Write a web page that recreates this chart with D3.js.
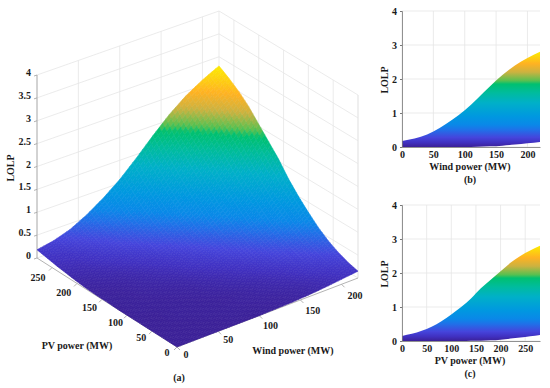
<!DOCTYPE html>
<html>
  <head>
    <title>LOLP surface</title>
    <script src="https://d3js.org/d3.v7.min.js"></script>
    <style>
      html, body { margin: 0; padding: 0; background: #fff; }
      text { font-family: "Liberation Serif", serif; font-weight: bold; fill: #1a1a1a; }
    </style>
  </head>
  <body>
    <div id="chart"></div>
    <script>
      // values
      var windPower = [0, 20, 40, 60, 80, 100, 120, 140, 160, 180, 200, 220];
      var pvPower = [0, 20, 40, 60, 80, 100, 120, 140, 160, 180, 200, 220, 240, 260, 280];
      // one row per pvPower value, one column per windPower value
      var lolp = [
        [0, 0, 0, 0, 0, 0, .01, .02, .04, .07, .11, .15],
        [0, 0, 0, 0, .01, .01, .02, .03, .05, .09, .15, .21],
        [0, 0, 0, .01, .01, .02, .03, .05, .08, .14, .21, .30],
        [0, 0, .01, .01, .01, .02, .04, .07, .12, .19, .29, .42],
        [0, 0, .01, .01, .02, .04, .07, .11, .18, .27, .39, .58],
        [0, .01, .01, .02, .03, .06, .10, .16, .25, .37, .55, .78],
        [0, .01, .02, .03, .05, .09, .15, .23, .34, .50, .73, 1.00],
        [.01, .01, .03, .05, .08, .14, .21, .31, .45, .67, .93, 1.25],
        [.01, .02, .04, .07, .12, .19, .28, .42, .62, .87, 1.17, 1.55],
        [.02, .04, .06, .11, .17, .26, .38, .57, .82, 1.10, 1.43, 1.80],
        [.04, .06, .10, .16, .24, .36, .53, .76, 1.04, 1.36, 1.72, 2.05],
        [.07, .09, .15, .22, .33, .49, .71, .98, 1.29, 1.62, 1.96, 2.30],
        [.10, .13, .20, .30, .45, .65, .92, 1.22, 1.55, 1.88, 2.20, 2.50],
        [.14, .18, .27, .41, .60, .86, 1.15, 1.48, 1.80, 2.12, 2.42, 2.66],
        [.18, .25, .37, .56, .80, 1.08, 1.42, 1.78, 2.12, 2.40, 2.62, 2.80]
      ];
      var zTicks3d = [0, 0.5, 1, 1.5, 2, 2.5, 3, 3.5, 4];
      var windTicks = [0, 50, 100, 150, 200];
      var pvTicks = [0, 50, 100, 150, 200, 250];
      var zTicks2d = [0, 1, 2, 3, 4];
      var colorZ = [0, .13, .28, .5, .65, .9, 1.3, 1.6, 1.85, 1.95, 2.2, 2.45, 2.8];
      var colorHex = ["#3b2097", "#4030c0", "#4545dc", "#2070e8", "#0a88e8", "#0098e0", "#00b0c8", "#00bc9c", "#00c070", "#58c050", "#ccb240", "#ffb222", "#fcec00"];

      var windMax = 220, pvMax = 280, zMax = 4;
      var steps = 5; // drawing subdivisions of each mesh cell

      var svg = d3.select("#chart").append("svg")
        .attr("width", 550)
        .attr("height", 388)
        .style("display", "block");
      var defs = svg.append("defs");

      var color = d3.scaleLinear().domain(colorZ).range(colorHex).clamp(true);

      // floor corners of the 3d box on screen
      var cO = [177, 347], cW = [358, 278], cP = [37, 258], cB = [219, 194];
      var tWind = d3.scaleLinear().domain([0, windMax]).range([0, 1]);
      var tPv = d3.scaleLinear().domain([0, pvMax]).range([0, 1]);
      var zPx = d3.scaleLinear().domain([0, zMax]).range([0, 183]);

      function project(w, p, z) {
        var a = tWind(w), b = tPv(p);
        var x = (1 - a) * (1 - b) * cO[0] + a * (1 - b) * cW[0] + (1 - a) * b * cP[0] + a * b * cB[0];
        var y = (1 - a) * (1 - b) * cO[1] + a * (1 - b) * cW[1] + (1 - a) * b * cP[1] + a * b * cB[1];
        return [x, y - zPx(z)];
      }

      var grid3d = svg.append("g").attr("class", "grid3d")
        .attr("fill", "none").attr("stroke", "#e6e6e6").attr("stroke-width", 0.8);

      function seg(g, a, b) {
        g.append("line")
          .attr("x1", a[0]).attr("y1", a[1])
          .attr("x2", b[0]).attr("y2", b[1]);
      }

      // walls
      zTicks3d.forEach(function(z) {
        seg(grid3d, project(0, pvMax, z), project(windMax, pvMax, z));
        seg(grid3d, project(windMax, 0, z), project(windMax, pvMax, z));
      });
      windTicks.forEach(function(w) {
        seg(grid3d, project(w, pvMax, 0), project(w, pvMax, zMax));
      });
      pvTicks.forEach(function(p) {
        seg(grid3d, project(windMax, p, 0), project(windMax, p, zMax));
      });
      seg(grid3d, project(windMax, pvMax, 0), project(windMax, pvMax, zMax));
      seg(grid3d, project(windMax, 0, 0), project(windMax, 0, zMax));

      // axes
      var axis3d = svg.append("g").attr("stroke", "#a0a0a0").attr("stroke-width", 0.8);
      seg(axis3d, project(0, pvMax, 0), project(0, pvMax, zMax));
      seg(axis3d, project(0, 0, 0), project(0, pvMax, 0));
      seg(axis3d, project(0, 0, 0), project(windMax, 0, 0));
      zTicks3d.forEach(function(z) {
        var q = project(0, pvMax, z);
        seg(axis3d, [q[0] - 3, q[1] + 1], q);
      });
      windTicks.forEach(function(w) {
        var q = project(w, 0, 0);
        seg(axis3d, q, [q[0] + 3, q[1] + 3]);
      });
      pvTicks.forEach(function(p) {
        var q = project(0, p, 0);
        seg(axis3d, q, [q[0] - 3, q[1] + 3]);
      });

      // surface, back to front, each cell shaded in small flat pieces
      var surface = svg.append("g").attr("class", "surface").attr("stroke-width", 0.6);
      var pieces = [];
      d3.range(pvPower.length - 1).forEach(function(i) {
        d3.range(windPower.length - 1).forEach(function(j) {
          var w0 = windPower[j], w1 = windPower[j + 1];
          var p0 = pvPower[i], p1 = pvPower[i + 1];
          var zAt = function(u, v) {
            return (1 - u) * (1 - v) * lolp[i][j] + u * (1 - v) * lolp[i][j + 1] +
              (1 - u) * v * lolp[i + 1][j] + u * v * lolp[i + 1][j + 1];
          };
          var at = function(u, v) {
            return project(w0 + (w1 - w0) * u, p0 + (p1 - p0) * v, zAt(u, v));
          };
          d3.range(steps).forEach(function(a) {
            d3.range(steps).forEach(function(b) {
              var u0 = a / steps, u1 = (a + 1) / steps, v0 = b / steps, v1 = (b + 1) / steps;
              pieces.push({
                depth: w0 + (w1 - w0) * u0 + p0 + (p1 - p0) * v0,
                z: zAt((u0 + u1) / 2, (v0 + v1) / 2),
                pts: [at(u0, v0), at(u1, v0), at(u1, v1), at(u0, v1)]
              });
            });
          });
        });
      });
      pieces.sort(function(a, b) { return b.depth - a.depth; });
      surface.selectAll("path").data(pieces).enter().append("path")
        .attr("d", function(d) { return d3.line()(d.pts) + "Z"; })
        .attr("fill", function(d) { return color(d.z); })
        .attr("stroke", function(d) { return color(d.z); });

      // 3d tick labels
      var labels3d = svg.append("g").attr("font-size", 10);
      zTicks3d.forEach(function(z) {
        var q = project(0, pvMax, z);
        labels3d.append("text")
          .attr("x", q[0] - 6).attr("y", q[1] + 1)
          .attr("text-anchor", "end")
          .text(z);
      });
      windTicks.forEach(function(w) {
        var q = project(w, 0, 0);
        labels3d.append("text")
          .attr("x", q[0] + 9 + 4.5 * w / 200).attr("y", q[1] + 11 + 4 * w / 200)
          .attr("text-anchor", "middle")
          .text(w);
      });
      pvTicks.forEach(function(p) {
        var q = project(0, p, 0);
        labels3d.append("text")
          .attr("x", q[0] - 10 - 4 * p / 250).attr("y", q[1] + 9 + 4 * p / 250)
          .attr("text-anchor", "middle")
          .text(p);
      });

      function label(x, y, txt, rotate) {
        svg.append("text")
          .attr("transform", "translate(" + x + "," + y + ")" + (rotate ? " rotate(-90)" : ""))
          .attr("text-anchor", "middle")
          .attr("font-size", 10)
          .text(txt);
      }
      label(77, 349, "PV power (MW)");
      label(293, 354, "Wind power (MW)");
      label(179, 381, "(a)");
      label(14, 168, "LOLP", true);

      // side views: the same surface seen along one floor axis
      function sideView(opts) {
        var x = d3.scaleLinear().domain(opts.domain).range([402, 540]);
        var y = d3.scaleLinear().domain([0, zMax]).range([opts.bottom, opts.bottom - 136]);
        var g = svg.append("g");

        var gradId = opts.id + "Grad";
        var grad = defs.append("linearGradient")
          .attr("id", gradId)
          .attr("gradientUnits", "userSpaceOnUse")
          .attr("x1", 0).attr("x2", 0)
          .attr("y1", y(0)).attr("y2", y(2.8));
        colorZ.forEach(function(z, i) {
          grad.append("stop").attr("offset", z / 2.8).attr("stop-color", colorHex[i]);
        });

        // light grid
        g.append("g").selectAll("line").data(opts.ticks).enter().append("line")
          .attr("x1", function(d) { return x(d); })
          .attr("x2", function(d) { return x(d); })
          .attr("y1", y(0)).attr("y2", y(zMax))
          .attr("stroke", "#e6e6e6").attr("stroke-width", 0.8);
        g.append("g").selectAll("line").data(zTicks2d).enter().append("line")
          .attr("x1", x.range()[0]).attr("x2", x.range()[1])
          .attr("y1", function(d) { return y(d); })
          .attr("y2", function(d) { return y(d); })
          .attr("stroke", "#e6e6e6").attr("stroke-width", 0.8);

        var area = d3.area()
          .x(function(d) { return x(d.x); })
          .y0(function(d) { return y(d.lo); })
          .y1(function(d) { return y(d.hi); })
          .curve(d3.curveMonotoneX);
        g.append("path")
          .attr("d", area(opts.envelope))
          .attr("fill", "url(#" + gradId + ")");

        var xAxis = d3.axisBottom(x).tickValues(opts.ticks).tickSize(0).tickPadding(4).tickFormat(d3.format("d"));
        var yAxis = d3.axisLeft(y).tickValues(zTicks2d).tickSize(2).tickPadding(3).tickFormat(d3.format("d"));
        var gx = g.append("g").attr("transform", "translate(0," + y(0) + ")").call(xAxis);
        var gy = g.append("g").attr("transform", "translate(402,0)").call(yAxis);
        [gx, gy].forEach(function(a) {
          a.attr("font-family", null);
          a.selectAll("text").style("font-size", "10px");
          a.select(".domain").attr("stroke", "#777").attr("stroke-width", 0.8);
          a.selectAll(".tick line").attr("stroke", "#777");
        });

        label(470, opts.bottom + 23, opts.title);
        label(470, opts.bottom + 36, opts.tag);
        label(388, opts.bottom - 67, "LOLP", true);
      }

      sideView({
        id: "b",
        domain: [0, windMax],
        ticks: windTicks,
        bottom: 147,
        title: "Wind power (MW)",
        tag: "(b)",
        envelope: windPower.map(function(w, j) {
          return { x: w, lo: lolp[0][j], hi: lolp[lolp.length - 1][j] };
        })
      });
      sideView({
        id: "c",
        domain: [0, pvMax],
        ticks: pvTicks,
        bottom: 341,
        title: "PV power (MW)",
        tag: "(c)",
        envelope: pvPower.map(function(p, i) {
          return { x: p, lo: lolp[i][0], hi: lolp[i][windPower.length - 1] };
        })
      });
    </script>
  </body>
</html>
